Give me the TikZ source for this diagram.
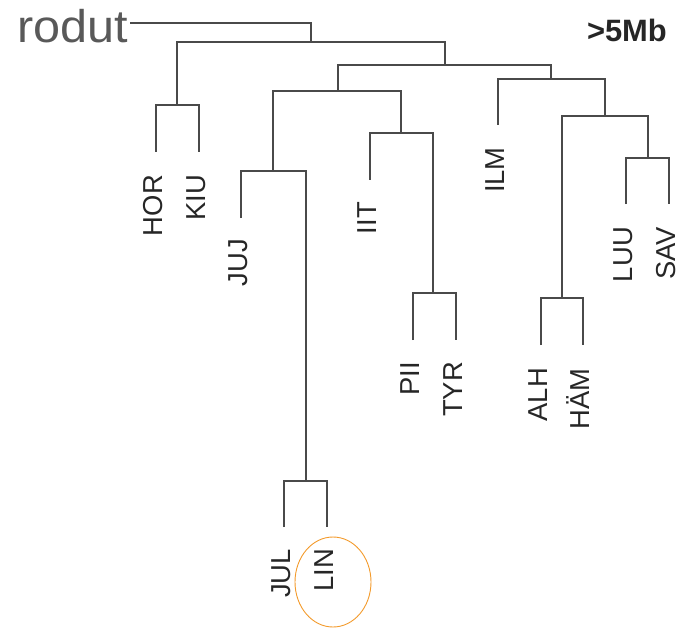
\documentclass[tikz,border=0pt]{standalone}
\usepackage{fontspec}
\setmainfont{Liberation Sans}
\usetikzlibrary{shapes.geometric, positioning, calc}
\definecolor{treegray}{HTML}{4A4A4A}
\definecolor{labelgray}{HTML}{262626}
\definecolor{rootgray}{HTML}{595959}
\definecolor{ringorange}{HTML}{F39A2B}

\begin{document}
\begin{tikzpicture}[
  x=1bp, y=-1bp,
  branch/.style={draw=treegray, line width=1.4bp},
  leaflabel/.style={rotate=90, anchor=base east, inner sep=0pt, text=labelgray, font=\fontsize{27.5}{30}\selectfont},
  rootlabel/.style={anchor=base west, inner sep=0pt, text=rootgray, xscale=1.06, font=\fontsize{46}{50}\selectfont},
  sizelabel/.style={anchor=base east, inner sep=0pt, text=labelgray, font=\fontsize{31}{34}\selectfont\bfseries},
  ring/.style={ellipse, draw=ringorange, line width=0.9bp, minimum width=76bp, minimum height=90bp, inner sep=0pt}
]
  \useasboundingbox (0,0) rectangle (683,628);

  % Leaf tips
  \coordinate (hor) at (156,152);
  \coordinate (kiu) at (199,152);
  \coordinate (juj) at (241,218);
  \coordinate (jul) at (284,527);
  \coordinate (lin) at (327,527);
  \coordinate (iit) at (370,180);
  \coordinate (pii) at (413,340);
  \coordinate (tyr) at (456,340);
  \coordinate (ilm) at (498,125);
  \coordinate (alh) at (541,345);
  \coordinate (ham) at (583,345);
  \coordinate (luu) at (626,204);
  \coordinate (sav) at (669,204);

  % Merge points
  \coordinate (horkiu) at (177,105);
  \coordinate (jullin) at (306,481);
  \coordinate (jujjul) at (273,171);
  \coordinate (piityr) at (433,293);
  \coordinate (iitpii) at (401,133);
  \coordinate (westgrp) at (338,91);
  \coordinate (alhham) at (562,298);
  \coordinate (luusav) at (648,158);
  \coordinate (alhluu) at (605,116);
  \coordinate (eastgrp) at (551,79);
  \coordinate (midgrp) at (445,65);
  \coordinate (topgrp) at (311,42);
  \coordinate (stem) at (130,23);

  % Branches
  \draw[branch] (hor) |- (horkiu) -| (kiu);
  \draw[branch] (jul) |- (jullin) -| (lin);
  \draw[branch] (juj) |- (jujjul) -| (jullin);
  \draw[branch] (pii) |- (piityr) -| (tyr);
  \draw[branch] (iit) |- (iitpii) -| (piityr);
  \draw[branch] (jujjul) |- (westgrp) -| (iitpii);
  \draw[branch] (alh) |- (alhham) -| (ham);
  \draw[branch] (luu) |- (luusav) -| (sav);
  \draw[branch] (alhham) |- (alhluu) -| (luusav);
  \draw[branch] (ilm) |- (eastgrp) -| (alhluu);
  \draw[branch] (westgrp) |- (midgrp) -| (eastgrp);
  \draw[branch] (horkiu) |- (topgrp) -| (midgrp);
  \draw[branch] (stem) -| (topgrp);

  % Leaf labels
  \node[leaflabel] (HOR) at ([xshift=6.5bp, yshift=-23bp]hor) {HOR};
  \node[leaflabel] (KIU) at ([xshift=6.5bp, yshift=-23bp]kiu) {KIU};
  \node[leaflabel] (JUJ) at ([xshift=6.5bp, yshift=-21bp]juj) {JUJ};
  \node[leaflabel] (JUL) at ([xshift=6.5bp, yshift=-22bp]jul) {JUL};
  \node[leaflabel] (LIN) at ([xshift=6.5bp, yshift=-22bp]lin) {LIN};
  \node[leaflabel] (IIT) at ([xshift=6.5bp, yshift=-22bp]iit) {IIT};
  \node[leaflabel] (PII) at ([xshift=6.5bp, yshift=-22bp]pii) {PII};
  \node[leaflabel] (TYR) at ([xshift=6.5bp, yshift=-22bp]tyr) {TYR};
  \node[leaflabel] (ILM) at ([xshift=6.5bp, yshift=-22bp]ilm) {ILM};
  \node[leaflabel] (ALH) at ([xshift=6.5bp, yshift=-23bp]alh) {ALH};
  \node[leaflabel] (HAM) at ([xshift=6.5bp, yshift=-23bp]ham) {HÄM};
  \node[leaflabel] (LUU) at ([xshift=6.5bp, yshift=-23bp]luu) {LUU};
  \node[leaflabel] (SAV) at ([xshift=6.5bp, yshift=-23bp]sav) {SAV};

  % Titles
  \node[rootlabel] (rodut) at (17,43) {rodut};
  \node[sizelabel] (size) at (667,42) {>5Mb};

  % Highlight
  \node[ring] (linring) at (333,582) {};
\end{tikzpicture}
\end{document}
